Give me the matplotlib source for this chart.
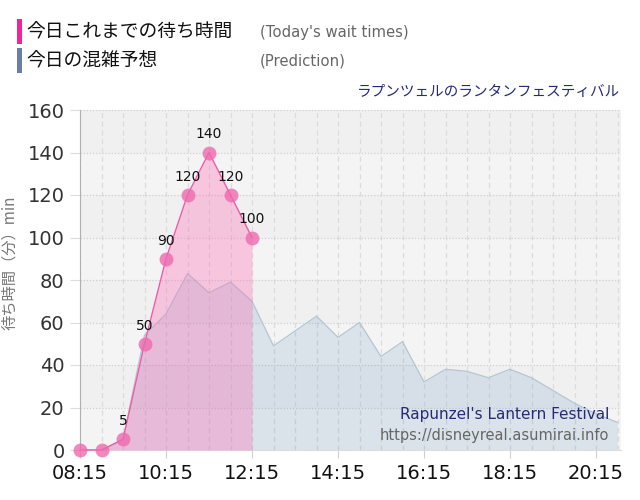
import matplotlib
matplotlib.use('Agg')
import matplotlib.pyplot as plt
from matplotlib.patches import Rectangle

# ---- data ----
actual_times = ['08:15', '08:45', '09:15', '09:45', '10:15', '10:45', '11:15', '11:45', '12:15']
actual_values = [0, 0, 5, 50, 90, 120, 140, 120, 100]

pred_times = ['08:15', '08:45', '09:15', '09:45', '10:15', '10:45', '11:15', '11:45', '12:15',
              '12:45', '13:15', '13:45', '14:15', '14:45', '15:15', '15:45', '16:15', '16:45',
              '17:15', '17:45', '18:15', '18:45', '19:15', '19:45', '20:15', '20:45']
pred_values = [0, 0, 5, 54, 64, 83, 74, 79, 70,
               49, 56, 63, 53, 60, 44, 51, 32, 38,
               37, 34, 38, 34, 28, 22, 17, 13]

x_tick_labels = ['08:15', '10:15', '12:15', '14:15', '16:15', '18:15', '20:15']
y_ticks = [0, 20, 40, 60, 80, 100, 120, 140, 160]


def to_h(s):
    h, m = s.split(':')
    return int(h) + int(m) / 60.0


ax_t = [to_h(t) for t in actual_times]
pr_t = [to_h(t) for t in pred_times]
xt = [to_h(t) for t in x_tick_labels]

CJK = ['Noto Sans CJK JP', 'DejaVu Sans']

fig = plt.figure(figsize=(6.4, 5.0), dpi=100)
fig.patch.set_facecolor('white')
ax = fig.add_axes([80 / 640, 50 / 500, 541 / 640, 340 / 500])
ax.set_facecolor('#f4f4f4')

x0 = to_h('08:15')
x1 = x0 + 541 / 43.0
ax.set_xlim(x0, x1)
ax.set_ylim(0, 160)

# alternating bands
for i, lo in enumerate(range(0, 160, 20)):
    if i % 2 == 1:
        ax.axhspan(lo, lo + 20, color='#f0f0f0', zorder=0, lw=0)

# grid
for k in range(0, 26):
    ax.axvline(x0 + 0.5 * k, color='#dcdcdc', lw=0.9, ls=(0, (4, 3)), zorder=1)
for y in y_ticks[1:]:
    ax.axhline(y, color='#cfcfcf', lw=0.9, ls=(0, (1, 1.5)), zorder=1)

# prediction
ax.fill_between(pr_t, pred_values, 0, color='#4682b4', alpha=0.15, lw=0, zorder=2)
ax.plot(pr_t, pred_values, color='#b4c6d3', lw=0.9, zorder=3)

# actual
ax.fill_between(ax_t, actual_values, 0, color='#ff69b4', alpha=0.33, lw=0, zorder=4)
ax.plot(ax_t, actual_values, color='#ee5ca6', lw=1.0, zorder=5, clip_on=False)
ax.plot(ax_t, actual_values, 'o', ms=10, color='#ee6aae', alpha=0.8, mec='none',
        zorder=6, clip_on=False)
for t, v in zip(ax_t, actual_values):
    if v > 0:
        ax.annotate(str(v), (t, v), xytext=(0, 8), textcoords='offset points',
                    ha='center', va='bottom', fontsize=10, color='#111111', zorder=7)

# axes styling
ax.set_xticks(xt)
ax.set_xticklabels(x_tick_labels)
ax.set_yticks(y_ticks)
ax.tick_params(axis='x', length=6, color='#d0d0d0', labelsize=14, labelcolor='#111111', pad=4)
ax.tick_params(axis='y', length=7, color='#dddddd', labelsize=14, labelcolor='#333333', pad=4)
for s in ['top', 'right']:
    ax.spines[s].set_visible(False)
ax.spines['left'].set_color('#b0b0b0')
ax.spines['bottom'].set_color('#dddddd')

ax.set_ylabel('待ち時間（分）min', fontsize=11, color='#777777', family=CJK)
ax.yaxis.set_label_coords(-0.115, 0.55)

# header legend
fig.patches.append(Rectangle((17 / 640, 1 - 44 / 500), 5 / 640, 25 / 500,
                             transform=fig.transFigure, color='#f0259a', lw=0))
fig.patches.append(Rectangle((17 / 640, 1 - 73 / 500), 5 / 640, 25 / 500,
                             transform=fig.transFigure, color='#6a7ea6', lw=0))
fig.text(26 / 640, 1 - 32 / 500, '今日これまでの待ち時間', fontsize=13.5, family=CJK,
         color='#111111', va='center', ha='left')
fig.text(26 / 640, 1 - 61 / 500, '今日の混雑予想', fontsize=13.5, family=CJK,
         color='#111111', va='center', ha='left')
fig.text(260 / 640, 1 - 32 / 500, "(Today's wait times)", fontsize=10.7,
         color='#666666', va='center', ha='left')
fig.text(260 / 640, 1 - 61 / 500, '(Prediction)', fontsize=10.7,
         color='#666666', va='center', ha='left')

fig.text(620 / 640, 1 - 92 / 500, 'ラプンツェルのランタンフェスティバル', fontsize=10.5,
         family=CJK, color='#262a78', va='center', ha='right')

# watermark
ax.text(0.978, 0.103, "Rapunzel's Lantern Festival", transform=ax.transAxes,
        fontsize=11, color='#262a78', ha='right', va='center', zorder=8)
ax.text(0.978, 0.042, 'https://disneyreal.asumirai.info', transform=ax.transAxes,
        fontsize=10.5, color='#666666', ha='right', va='center', zorder=8)

fig.savefig('out.png', dpi=100)
